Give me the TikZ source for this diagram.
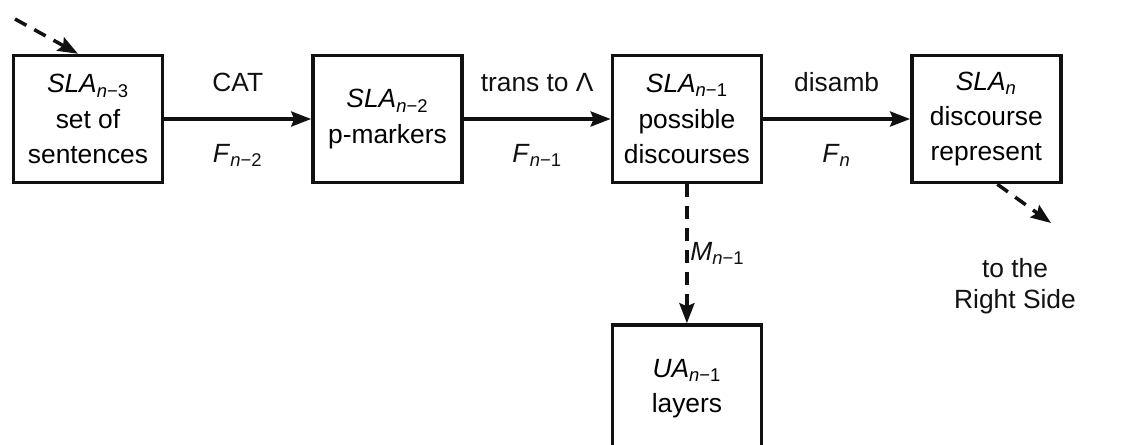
\documentclass[tikz,border=0pt]{standalone}
\usepackage{fontspec}
\setmainfont{Liberation Sans}
\usepackage{tikz}
\usetikzlibrary{arrows.meta,positioning,calc}
\definecolor{ink}{HTML}{111111}
\newcommand{\lv}[2]{\textit{#1}\textsubscript{#2}}

\begin{document}
\begin{tikzpicture}[x=0.02cm,y=-0.02cm,node distance=29.4mm,
   bx/.style={draw=ink,line width=2pt,minimum width=29.8mm,minimum height=25.4mm,
              font=\fontsize{15}{20}\selectfont,align=center,inner sep=2pt},
   lbl/.style={font=\fontsize{15}{18}\selectfont,text=ink},
   fl/.style={draw=ink,line width=2pt,-{Stealth[length=4mm,width=3mm,inset=0.6mm]}},
   dl/.style={fl,dash pattern=on 2.6mm off 1.8mm}]
  \clip (0,0) rectangle (1123,444);
  \node[bx] (s3) at (88,119) {\lv{SLA}{\textit{n}−3}\\set of\\sentences};
  \node[bx,right=of s3] (s2) {\lv{SLA}{\textit{n}−2}\\p-markers};
  \node[bx,right=of s2] (s1) {\lv{SLA}{\textit{n}−1}\\possible\\discourses};
  \node[bx,right=of s1] (s0) {\lv{SLA}{\textit{n}}\\discourse\\represent};
  \node[bx,below=27.8mm of s1] (ua) {\lv{UA}{\textit{n}−1}\\layers};
  \node[lbl,align=center] (rs) at (1015,286) {to the\\Right Side};
  \coordinate (in) at (15,19);
  \coordinate (out) at (1051,223);
  \draw[fl] (s3) -- node[lbl,above=4mm]{CAT} node[lbl,below=3.5mm]{\lv{F}{\textit{n}−2}} (s2);
  \draw[fl] (s2) -- node[lbl,above=4mm]{trans to Λ} node[lbl,below=3.5mm]{\lv{F}{\textit{n}−1}} (s1);
  \draw[fl] (s1) -- node[lbl,above=4mm]{disamb} node[lbl,below=3.5mm]{\lv{F}{\textit{n}}} (s0);
  \draw[dl] (s1) -- node[lbl,right=0pt,inner sep=1pt]{\lv{M}{\textit{n}−1}} (ua);
  \draw[dl] (in) -- ([xshift=-0.2cm]s3.north);
  \draw[dl] ([xshift=0.22cm]s0.south) -- (out);
\end{tikzpicture}
\end{document}
